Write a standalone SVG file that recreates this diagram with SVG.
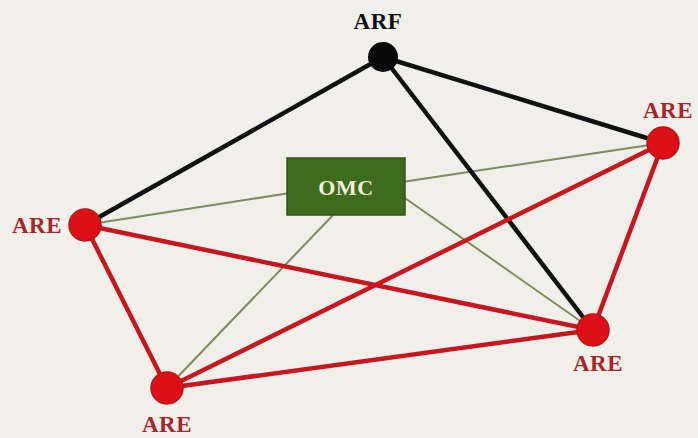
<svg xmlns="http://www.w3.org/2000/svg" width="698" height="438" viewBox="0 0 698 438">
<style>
.bg{fill:#f0efe9}
.blk{stroke:#111;stroke-width:4.5;fill:none;stroke-linecap:round}
.red{stroke:#c8161e;stroke-width:4.5;fill:none;stroke-linecap:round}
.grn{stroke:#7d8c5c;stroke-width:2;fill:none}
.are{fill:#dc1016;stroke:#b8141a;stroke-width:1.5}
.lbl{font-family:"Liberation Serif","DejaVu Serif",serif;font-weight:bold;font-size:23px;text-anchor:middle;letter-spacing:0.5px}
.redt{fill:#a6272b}
</style>
<rect class="bg" x="0" y="0" width="698" height="438"/>
<g id="connectors">
<line class="grn" x1="85" y1="225" x2="290" y2="193"/>
<line class="grn" x1="402" y1="182" x2="663" y2="143"/>
<line class="grn" x1="402" y1="196" x2="593" y2="330"/>
<line class="grn" x1="167" y1="388" x2="336" y2="212"/>
<line class="blk" x1="383" y1="57" x2="85" y2="225"/>
<line class="blk" x1="383" y1="57" x2="663" y2="143"/>
<line class="blk" x1="383" y1="57" x2="593" y2="330"/>
<line class="red" x1="85" y1="225" x2="167" y2="388"/>
<line class="red" x1="85" y1="225" x2="593" y2="330"/>
<line class="red" x1="167" y1="388" x2="663" y2="143"/>
<line class="red" x1="167" y1="388" x2="593" y2="330"/>
<line class="red" x1="663" y1="143" x2="593" y2="330"/>
</g>
<g id="omc">
<rect x="287" y="158" width="118" height="57" fill="#3e6b1c" stroke="#2f5514" stroke-width="1.5"/>
<text class="lbl" x="346" y="195" fill="#f1f0dc" style="font-size:22px">OMC</text>
</g>
<g id="arf">
<circle cx="383" cy="57" r="15" fill="#0a0a0a"/>
<text class="lbl" x="378" y="29" fill="#111">ARF</text>
</g>
<g id="are-left">
<circle class="are" cx="85" cy="225" r="16"/>
<text class="lbl redt" x="37" y="233">ARE</text>
</g>
<g id="are-topright">
<circle class="are" cx="663" cy="143" r="16"/>
<text class="lbl redt" x="668" y="118">ARE</text>
</g>
<g id="are-bottomright">
<circle class="are" cx="593" cy="330" r="16"/>
<text class="lbl redt" x="598" y="371">ARE</text>
</g>
<g id="are-bottomleft">
<circle class="are" cx="167" cy="388" r="16"/>
<text class="lbl redt" x="167" y="432">ARE</text>
</g>
</svg>
